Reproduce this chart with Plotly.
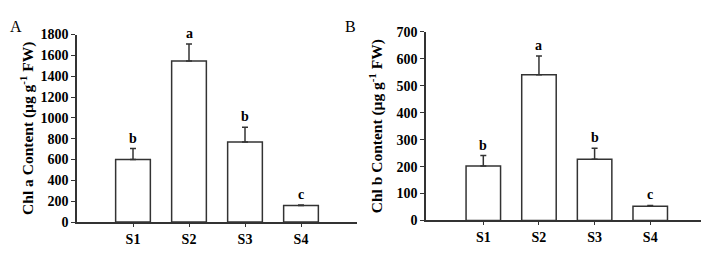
import plotly.graph_objects as go

categories = ["S1", "S2", "S3", "S4"]
chla_values = [600, 1545, 768, 160]
chla_err = [105, 165, 143, 5]
chla_letters = ["b", "a", "b", "c"]
chlb_values = [202, 541, 227, 53]
chlb_err = [39, 70, 41, 3]
chlb_letters = ["b", "a", "b", "c"]
chla_ticks = [0, 200, 400, 600, 800, 1000, 1200, 1400, 1600, 1800]
chlb_ticks = [0, 100, 200, 300, 400, 500, 600, 700]

FONT = "Liberation Serif"
AXC = "#333333"
W, H = 709, 261
OFFX = 8
OFFY = 2

def px(x):
    return (x - OFFX) / W

def py(y):
    return 1 - (y - OFFY) / H

fig = go.Figure()

def add_panel(vals, errs, xa, ya):
    fig.add_trace(go.Bar(
        x=categories, y=vals, xaxis=xa, yaxis=ya, width=0.62,
        marker=dict(color="white", line=dict(color=AXC, width=1.5)),
        error_y=dict(type="data", symmetric=False, array=errs,
                     arrayminus=[0] * len(errs), color=AXC, thickness=1.5, width=3),
        showlegend=False,
    ))

add_panel(chla_values, chla_err, "x", "y")
add_panel(chlb_values, chlb_err, "x2", "y2")

annotations = []
for c, v, e, l in zip(categories, chla_values, chla_err, chla_letters):
    annotations.append(dict(x=c, y=v + e, xref="x", yref="y", text="<b>%s</b>" % l,
                            showarrow=False, yanchor="bottom", yshift=1,
                            font=dict(family=FONT, size=14, color="black")))
for c, v, e, l in zip(categories, chlb_values, chlb_err, chlb_letters):
    annotations.append(dict(x=c, y=v + e, xref="x2", yref="y2", text="<b>%s</b>" % l,
                            showarrow=False, yanchor="bottom", yshift=1,
                            font=dict(family=FONT, size=14, color="black")))
annotations.append(dict(x=0, y=py(14), xref="paper", yref="paper", text="A",
                        showarrow=False, xanchor="left", yanchor="middle",
                        font=dict(family=FONT, size=16, color="black")))
annotations.append(dict(x=px(343), y=py(14), xref="paper", yref="paper", text="B",
                        showarrow=False, xanchor="left", yanchor="middle",
                        font=dict(family=FONT, size=16, color="black")))

xcommon = dict(type="category", showline=True, linecolor=AXC, linewidth=1.5,
               ticks="outside", ticklen=3, tickcolor=AXC, showgrid=False, zeroline=False,
               tickfont=dict(family=FONT, size=14, color="black"))
ycommon = dict(showline=True, linecolor=AXC, linewidth=1.5, ticks="outside", ticklen=4,
               tickcolor=AXC, showgrid=False, zeroline=False,
               tickfont=dict(family=FONT, size=14, color="black"))

fig.update_layout(
    width=W, height=H,
    margin=dict(l=0, r=0, t=0, b=0),
    paper_bgcolor="white", plot_bgcolor="white",
    xaxis=dict(domain=[px(77), px(357)], range=[-1.0, 4.0], anchor="y",
               tickvals=categories, ticktext=["<b>%s</b>" % c for c in categories], **xcommon),
    yaxis=dict(domain=[py(221.7), py(22.7)], range=[0, 1800], anchor="x",
               tickvals=chla_ticks, ticktext=["<b>%d</b>" % t for t in chla_ticks],
               title=dict(text="<b>Chl a Content (μg g<sup>-1</sup> FW)</b>", standoff=3,
                          font=dict(family=FONT, size=15.5, color="black")), **ycommon),
    xaxis2=dict(domain=[px(426), px(707)], range=[-1.03, 4.02], anchor="y2",
                tickvals=categories, ticktext=["<b>%s</b>" % c for c in categories], **xcommon),
    yaxis2=dict(domain=[py(220), py(20)], range=[0, 700], anchor="x2",
                tickvals=chlb_ticks, ticktext=["<b>%d</b>" % t for t in chlb_ticks],
                title=dict(text="<b>Chl b Content (μg g<sup>-1</sup> FW)</b>", standoff=10,
                           font=dict(family=FONT, size=15.5, color="black")), **ycommon),
    annotations=annotations,
)

fig.write_html("out.html")
